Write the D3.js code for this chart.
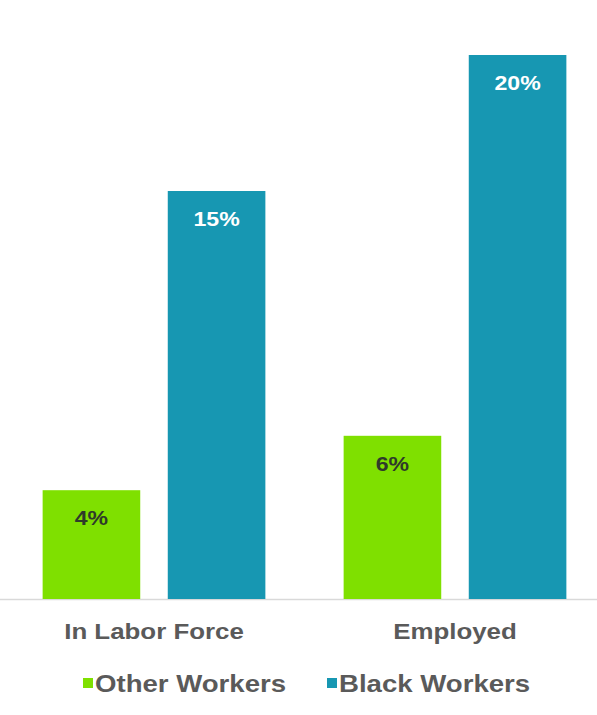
<!DOCTYPE html>
<html>
<head>
<meta charset="utf-8">
<script src="https://cdn.jsdelivr.net/npm/d3@7"></script>
<style>
  html, body { margin: 0; padding: 0; background: #ffffff; }
  svg { display: block; font-family: "Liberation Sans", Arial, sans-serif; }
</style>
</head>
<body>
<svg id="chart" width="597" height="715"></svg>
<script>
// Share of workers (%) by labour-force status
const categories = ["In Labor Force", "Employed"];
const seriesNames = ["Other Workers", "Black Workers"];
const otherWorkers = [4, 6];
const blackWorkers = [15, 20];
const valueLabels = [["4%", "6%"], ["15%", "20%"]];

const colors = { "Other Workers": "#7fe000", "Black Workers": "#1797b2" };
const labelColors = { "Other Workers": "#2f3a2a", "Black Workers": "#ffffff" };

const svg = d3.select("#chart");
const W = 597;
const baseY = 599;

const x0 = d3.scaleBand().domain(categories).range([3.5, 605.5])
  .paddingInner(0.26).paddingOuter(0.13);
const x1 = d3.scaleBand().domain(seriesNames).range([0, x0.bandwidth()])
  .paddingInner(0.22);
const y = d3.scaleLinear().domain([0, 20]).range([baseY, 55]);

const rows = categories.map((c, i) => ({
  category: c,
  values: [
    { series: seriesNames[0], value: otherWorkers[i], label: valueLabels[0][i] },
    { series: seriesNames[1], value: blackWorkers[i], label: valueLabels[1][i] }
  ]
}));

// baseline
svg.append("line")
  .attr("x1", 0).attr("x2", W)
  .attr("y1", baseY + 0.5).attr("y2", baseY + 0.5)
  .attr("stroke", "#d9d9d9").attr("stroke-width", 1.5);

const groups = svg.selectAll("g.cat").data(rows).join("g")
  .attr("class", "cat")
  .attr("transform", d => `translate(${x0(d.category)},0)`);

groups.selectAll("rect").data(d => d.values).join("rect")
  .attr("x", d => x1(d.series))
  .attr("y", d => y(d.value))
  .attr("width", x1.bandwidth())
  .attr("height", d => baseY - y(d.value))
  .attr("fill", d => colors[d.series]);

groups.selectAll("text.val").data(d => d.values).join("text")
  .attr("class", "val")
  .attr("transform", d => `translate(${x1(d.series) + x1.bandwidth() / 2},${y(d.value) + 35}) scale(1.1,1)`)
  .attr("text-anchor", "middle")
  .attr("font-size", 21)
  .attr("font-weight", "bold")
  .attr("fill", d => labelColors[d.series])
  .text(d => d.label);

// category axis labels (slightly wide lettering)
const xAxis = d3.axisBottom(x0).tickSize(0).tickPadding(0);
const axisG = svg.append("g")
  .attr("transform", `translate(0,${baseY})`)
  .call(xAxis);
axisG.select(".domain").remove();
axisG.selectAll("text")
  .attr("y", 0)
  .attr("dy", 0)
  .attr("transform", "translate(0,40) scale(1.15,1)")
  .attr("font-family", "\"Liberation Sans\", Arial, sans-serif")
  .attr("font-size", 22.5)
  .attr("font-weight", "bold")
  .attr("fill", "#5a5a5a");

// legend
const legendItems = [
  { name: seriesNames[0], x: 83 },
  { name: seriesNames[1], x: 327 }
];
const legend = svg.append("g").selectAll("g").data(legendItems).join("g")
  .attr("transform", d => `translate(${d.x},${692})`);
legend.append("rect")
  .attr("x", 0).attr("y", -14)
  .attr("width", 10).attr("height", 10)
  .attr("fill", d => colors[d.name]);
legend.append("text")
  .attr("transform", "translate(12,0) scale(1.2,1)")
  .attr("font-size", 23)
  .attr("font-weight", "bold")
  .attr("fill", "#5a5a5a")
  .text(d => d.name);
</script>
</body>
</html>
